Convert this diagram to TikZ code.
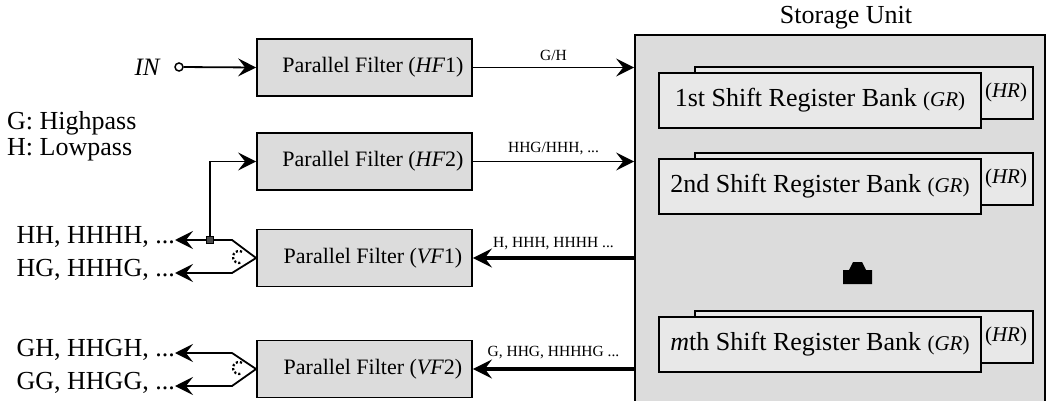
\documentclass[tikz,border=0pt]{standalone}
\usepackage{fontspec}
\setmainfont{Liberation Serif}
\usetikzlibrary{arrows.meta}
\definecolor{boxgray}{RGB}{220,220,220}
\definecolor{bankgray}{RGB}{232,232,232}
\begin{document}
\begin{tikzpicture}[x=1pt,y=-1pt,
  arr/.style={line width=1.8pt,-{Stealth[length=18pt,width=18pt,inset=7pt]}},
  filter/.style={draw, line width=1.8pt, fill=boxgray, minimum width=215pt,
    minimum height=57pt, inner sep=0pt, font=\fontsize{22}{26}\selectfont},
  storage/.style={draw, line width=1.8pt, fill=boxgray, minimum width=410pt,
    minimum height=367pt, inner sep=0pt},
  bankfront/.style={draw, line width=1.8pt, fill=bankgray, minimum width=322pt,
    minimum height=55pt, inner sep=0pt, font=\fontsize{26}{30}\selectfont},
  bankback/.style={draw, line width=1.8pt, fill=bankgray, minimum width=338pt,
    minimum height=52pt, inner sep=0pt},
  small/.style={font=\fontsize{21}{24}\selectfont},
  lbl/.style={inner sep=0pt, font=\fontsize{15.5}{18}\selectfont},
  bigtxt/.style={inner sep=0pt, font=\fontsize{26}{30}\selectfont},
  dotarc/.style={line width=2.2pt, dash pattern=on 2.2pt off 2pt},
]
\useasboundingbox (0,0) rectangle (1050,401);

% storage unit with its register banks
\node[storage] (su) at (840,218.5) {};
\node[bigtxt] (sutitle) at (846,18) {Storage Unit};

\node[bankback] (b1back) at (864,93) {};
\node[bankfront] (b1) at (820,100.5) {1st Shift Register Bank {\fontsize{21}{24}\selectfont(\textit{GR})}};
\node[small, inner sep=0pt] (b1hr) at (1006,92) {(\textit{HR})};

\node[bankback] (b2back) at (864,179) {};
\node[bankfront] (b2) at (820,186.5) {2nd Shift Register Bank {\fontsize{21}{24}\selectfont(\textit{GR})}};
\node[small, inner sep=0pt] (b2hr) at (1006,178) {(\textit{HR})};

\node[bankback] (bmback) at (864,337) {};
\node[bankfront] (bm) at (820,344.5) {\textit{m}th Shift Register Bank {\fontsize{21}{24}\selectfont(\textit{GR})}};
\node[small, inner sep=0pt] (bmhr) at (1006,336) {(\textit{HR})};

% vertical dots between the banks
\fill (843,284) -- (843,270) -- (849,270) -- (853,262) -- (862,262) -- (866,270)
  -- (872,270) -- (872,284) -- cycle;

% parallel filters
\node[filter] (hf1) at (364.5,67.5) {\hspace*{17pt}Parallel Filter (\textit{HF}1)};
\node[filter] (hf2) at (364.5,161.5) {\hspace*{17pt}Parallel Filter (\textit{HF}2)};
\node[filter] (vf1) at (364.5,258) {\hspace*{17pt}Parallel Filter (\textit{VF}1)};
\node[filter] (vf2) at (364.5,369) {\hspace*{17pt}Parallel Filter (\textit{VF}2)};

% input
\node[bigtxt, font=\fontsize{25}{28}\selectfont\itshape] (in) at (147,67) {IN};
\node[draw, circle, line width=1.5pt, fill=white, minimum size=8pt, inner sep=0pt] (inc) at (179,67) {};
\draw[arr] (inc) -- (hf1.west);

% legend
\node[bigtxt, anchor=base west] (lg1) at (7,130) {G: Highpass};
\node[bigtxt, anchor=base west] (lg2) at (7,156) {H: Lowpass};

% filters into storage
\draw[arr] (hf1.east) -- (hf1.east -| su.west)
  node[lbl, midway, above=6pt] {G/H};
\draw[arr] (hf2.east) -- (hf2.east -| su.west)
  node[lbl, midway, above=6pt] {HHG/HHH, ...};

% storage back to the vertical filters
\draw[line width=3.2pt,-{Stealth[length=19pt,width=19pt,inset=7pt]}] (su.west |- vf1.east) -- (vf1.east)
  node[lbl, midway, above=7pt] {H, HHH, HHHH ...};
\draw[line width=4.8pt,-{Stealth[length=19pt,width=19pt,inset=7pt]}] (su.west |- vf2.east) -- (vf2.east)
  node[lbl, midway, above=8pt] {G, HHG, HHHHG ...};

% outputs of VF1
\node[bigtxt, anchor=base east] (o1) at (175,243) {HH, HHHH, ...};
\node[bigtxt, anchor=base east] (o2) at (175,276) {HG, HHHG, ...};
\coordinate (v1u) at (232,240);
\coordinate (v1l) at (232,273);
\draw[arr] (vf1.west) -- (v1u) -- (v1u -| o1.east);
\draw[arr] (vf1.west) -- (v1l) -- (v1l -| o2.east);
\draw[dotarc] (242,251.8) arc[start angle=-60, end angle=-300, radius=6];

% feedback of HH into HF2
\node[draw, line width=1.4pt, fill=black!70, minimum size=7pt, inner sep=0pt] (j) at (210,240) {};
\draw[arr] (j.north) |- (hf2.west);

% outputs of VF2
\node[bigtxt, anchor=base east] (o3) at (175,356) {GH, HHGH, ...};
\node[bigtxt, anchor=base east] (o4) at (175,389) {GG, HHGG, ...};
\coordinate (v2u) at (232,353);
\coordinate (v2l) at (232,386);
\draw[arr] (vf2.west) -- (v2u) -- (v2u -| o3.east);
\draw[arr] (vf2.west) -- (v2l) -- (v2l -| o4.east);
\draw[dotarc] (242,362.8) arc[start angle=-60, end angle=-300, radius=6];
\end{tikzpicture}
\end{document}
